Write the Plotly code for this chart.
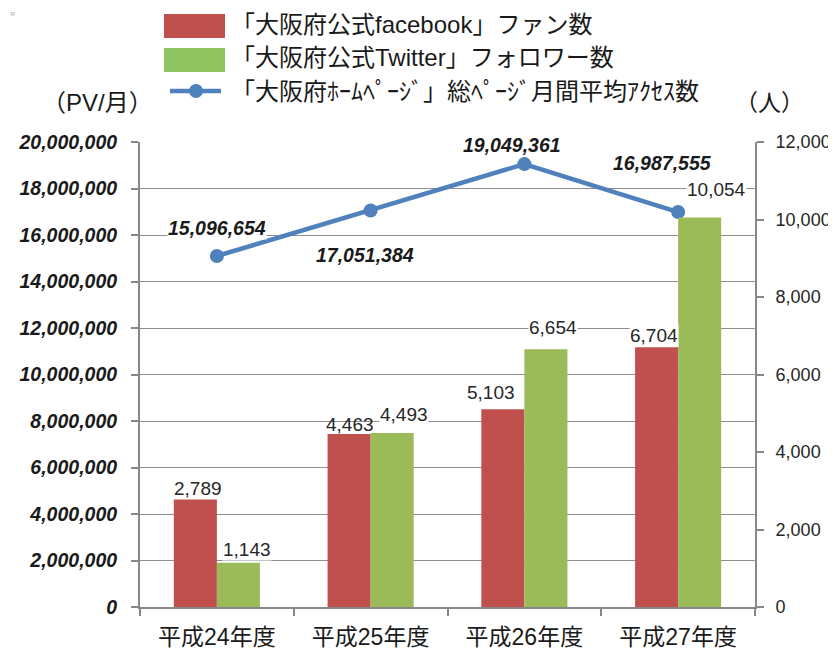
import plotly.graph_objects as go

# ---------------- data ----------------
categories = ["平成24年度", "平成25年度", "平成26年度", "平成27年度"]
facebook_fans = [2789, 4463, 5103, 6704]
twitter_followers = [1143, 4493, 6654, 10054]
page_views = [15096654, 17051384, 19049361, 16987555]

series_names = [
    "「大阪府公式facebook」ファン数",
    "「大阪府公式Twitter」フォロワー数",
    "「大阪府ﾎｰﾑﾍﾟｰｼﾞ」総ﾍﾟｰｼﾞ月間平均ｱｸｾｽ数",
]

left_ticks = list(range(0, 20000001, 2000000))
right_ticks = list(range(0, 12001, 2000))

# ---------------- style ----------------
FONT = "Liberation Sans, Noto Sans CJK JP, Arial, sans-serif"
RED = "#C0504D"
GREEN = "#9BBB59"
BLUE = "#4F81BD"
AXIS = "#878787"
GRID = "#8E8E8E"
TXT = "#1a1a1a"

OFF = 8  # page body margin
W, H = 836 - OFF, 651 - OFF
ML, MT = 140 - OFF, 142 - OFF
PW, PH = 615, 465
MR, MB = W - ML - PW, H - MT - PH

def px(x):
    return (x - OFF - ML) / PW

def py(y):
    return (MT + PH - (y - OFF)) / PH

# label offsets in pixels (dx, dy) relative to the mark
line_lbl_off = [(0, -28), (-6, 44), (-12, -19), (-16, -49)]
fb_lbl_off = [(3, -10), (1, -10), (-12, -17), (-3, -12)]
tw_lbl_off = [(9, -13), (12, -18), (7, -22), (17, -28)]
fb_lbl_bg = ["white", "rgba(0,0,0,0)", "white", "white"]
tw_lbl_bg = ["white", "white", "white", "white"]

BAR_HALF = 0.14

fig = go.Figure()

fig.add_trace(go.Scatter(
    x=categories, y=page_views, name=series_names[2], yaxis="y",
    mode="lines+markers",
    line=dict(color=BLUE, width=4.5),
    marker=dict(color=BLUE, size=14),
    showlegend=False, cliponaxis=False,
))
fig.add_trace(go.Bar(
    x=categories, y=facebook_fans, name=series_names[0], yaxis="y2",
    marker=dict(color=RED, line=dict(width=0)), offsetgroup="fb",
    showlegend=False,
))
fig.add_trace(go.Bar(
    x=categories, y=twitter_followers, name=series_names[1], yaxis="y2",
    marker=dict(color=GREEN, line=dict(width=0)), offsetgroup="tw",
    showlegend=False,
))

annotations = []
# line value labels
for i, v in enumerate(page_views):
    dx, dy = line_lbl_off[i]
    annotations.append(dict(
        x=i, y=v, xref="x", yref="y", text=f"{v:,}", showarrow=False,
        xshift=dx, yshift=-dy, xanchor="center", yanchor="middle",
        font=dict(family=FONT, size=19.5, color=TXT, weight="bold", style="italic"),
        bgcolor="white", borderpad=0,
    ))
# bar value labels
for i, v in enumerate(facebook_fans):
    dx, dy = fb_lbl_off[i]
    annotations.append(dict(
        x=i - BAR_HALF, y=v, xref="x", yref="y2", text=f"{v:,}", showarrow=False,
        xshift=dx, yshift=-dy, xanchor="center", yanchor="middle",
        font=dict(family=FONT, size=19, color="#262626"),
        bgcolor=fb_lbl_bg[i], borderpad=0,
    ))
for i, v in enumerate(twitter_followers):
    dx, dy = tw_lbl_off[i]
    annotations.append(dict(
        x=i + BAR_HALF, y=v, xref="x", yref="y2", text=f"{v:,}", showarrow=False,
        xshift=dx, yshift=-dy, xanchor="center", yanchor="middle",
        font=dict(family=FONT, size=19, color="#262626"),
        bgcolor=tw_lbl_bg[i], borderpad=0,
    ))

# axis titles
annotations.append(dict(x=px(97), y=py(103), xref="paper", yref="paper",
                        text="（PV/月）", showarrow=False, xanchor="center", yanchor="middle",
                        font=dict(family=FONT, size=24, color=TXT)))
annotations.append(dict(x=px(769), y=py(103), xref="paper", yref="paper",
                        text="（人）", showarrow=False, xanchor="center", yanchor="middle",
                        font=dict(family=FONT, size=23, color=TXT)))
annotations.append(dict(x=px(OFF), y=py(14), xref="paper", yref="paper",
                        text="○", showarrow=False, xanchor="left", yanchor="middle",
                        font=dict(family=FONT, size=8, color="#444444")))

# custom legend
legend_rows_y = [25, 58, 91]
shapes = []
shapes.append(dict(type="rect", xref="paper", yref="paper",
                   x0=px(164), x1=px(225), y0=py(14), y1=py(38),
                   fillcolor=RED, line=dict(width=0)))
shapes.append(dict(type="rect", xref="paper", yref="paper",
                   x0=px(164), x1=px(225), y0=py(48), y1=py(72),
                   fillcolor="#8FC460", line=dict(width=0)))
shapes.append(dict(type="line", xref="paper", yref="paper",
                   x0=px(170), x1=px(221), y0=py(91), y1=py(91),
                   line=dict(color=BLUE, width=4.5)))
shapes.append(dict(type="circle", xref="paper", yref="paper",
                   xsizemode="pixel", ysizemode="pixel",
                   xanchor=px(196), yanchor=py(91),
                   x0=-7, x1=7, y0=-7, y1=7,
                   fillcolor=BLUE, line=dict(width=0)))
for name, yy in zip(series_names, legend_rows_y):
    annotations.append(dict(x=px(229), y=py(yy), xref="paper", yref="paper",
                            text=name, showarrow=False, xanchor="left", yanchor="middle",
                            font=dict(family=FONT, size=24, color=TXT)))

fig.update_layout(
    width=W, height=H,
    margin=dict(l=ML, r=MR, t=MT, b=MB, pad=0, autoexpand=False),
    paper_bgcolor="white", plot_bgcolor="white",
    barmode="group", bargap=0.44, bargroupgap=0,
    showlegend=False,
    font=dict(family=FONT, color=TXT),
    xaxis=dict(
        type="category", categoryorder="array", categoryarray=categories,
        range=[-0.5, 3.5], automargin=False,
        showline=True, linecolor=AXIS, linewidth=2,
        ticks="outside", ticklen=7, tickcolor=AXIS, tickwidth=1.5,
        tickson="boundaries", showgrid=False,
        tickfont=dict(family=FONT, size=23, color=TXT),
        ticklabelstandoff=8,
    ),
    yaxis=dict(
        range=[0, 20000000], tickvals=left_ticks, automargin=False,
        ticktext=[f"{t:,}" for t in left_ticks],
        showline=True, linecolor=AXIS, linewidth=2,
        ticks="outside", ticklen=7, tickcolor=AXIS, tickwidth=1.5,
        showgrid=True, gridcolor=GRID, gridwidth=1.2,
        zeroline=False,
        tickfont=dict(family=FONT, size=19.5, color=TXT, weight="bold", style="italic"),
        ticklabelstandoff=10,
    ),
    yaxis2=dict(
        range=[0, 12000], tickvals=right_ticks, automargin=False,
        ticktext=[f"{t:,}" for t in right_ticks],
        overlaying="y", side="right",
        showline=True, linecolor=AXIS, linewidth=2,
        ticks="outside", ticklen=7, tickcolor=AXIS, tickwidth=1.5,
        showgrid=False, zeroline=False,
        tickfont=dict(family=FONT, size=18, color="#262626"),
        ticklabelstandoff=8,
    ),
    annotations=annotations,
    shapes=shapes,
)

fig.write_html("out.html")
